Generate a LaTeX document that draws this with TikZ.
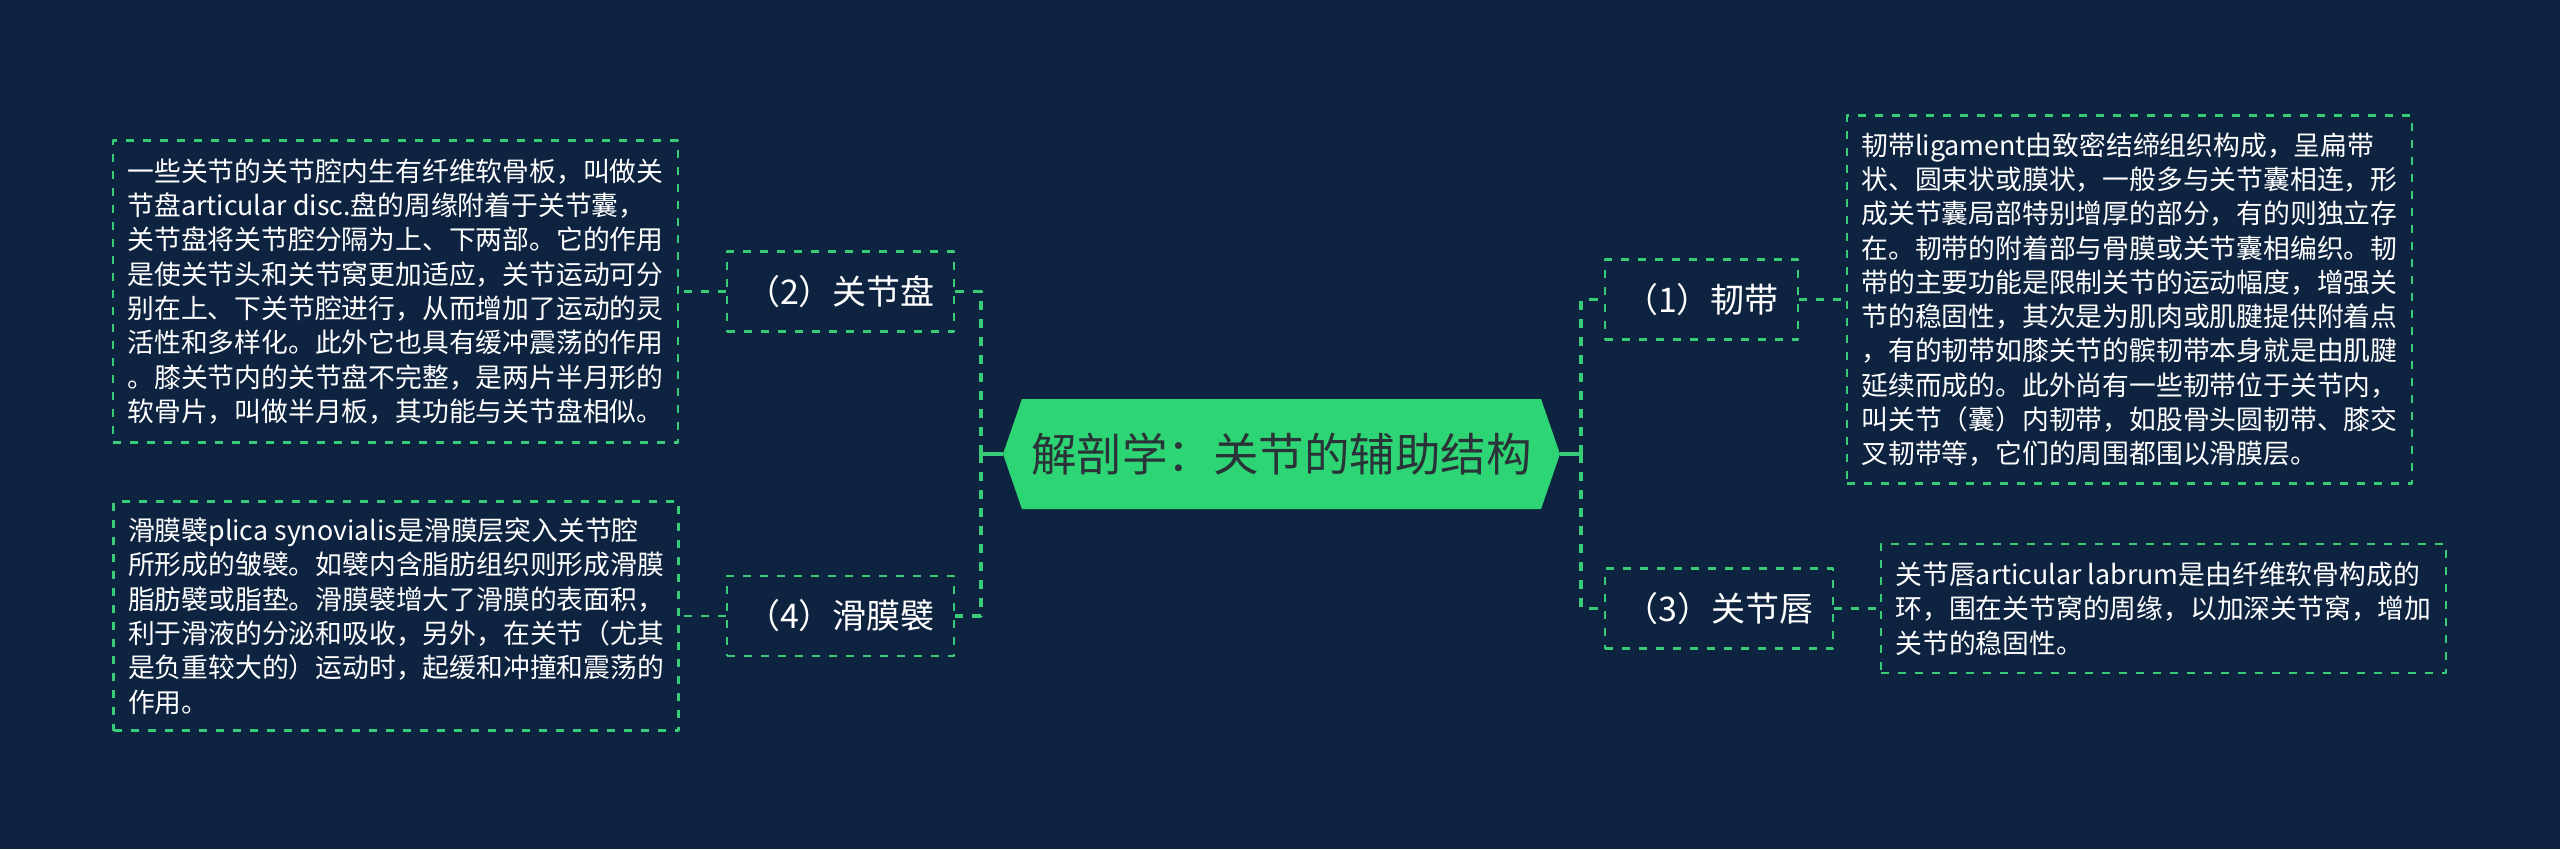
\documentclass[tikz,border=0pt]{standalone}
\usepackage{fontspec}
\setmainfont{Noto Sans CJK SC}
\usepackage{tikz}
\usetikzlibrary{shapes.symbols}
\definecolor{qqeett}{rgb}{0.055,0.137,0.251}
\definecolor{ttddww}{rgb}{0.18,0.835,0.455}
\definecolor{wwddtt}{rgb}{0.22,0.8,0.47}
\definecolor{eerrrr}{rgb}{0.16,0.2,0.22}
\begin{document}
\begin{tikzpicture}[line cap=butt,line join=round,x=1pt,y=-1pt,
	stem/.style={color=wwddtt,line width=3.5pt},
	link/.style={color=wwddtt,line width=3.5pt,dash pattern=on 9pt off 9pt},
	thinlink/.style={color=wwddtt,line width=2.5pt,dash pattern=on 8pt off 9pt},
	topic/.style={draw=wwddtt,line width=2.5pt,dash pattern=on 8pt off 9pt,text=white,inner sep=0pt,minimum height=80pt,font=\fontsize{34pt}{40pt}\selectfont},
	detail/.style={draw=wwddtt,line width=2.5pt,dash pattern=on 8pt off 9pt,text=white,inner sep=0pt,align=left,minimum width=565pt,font=\fontsize{26.8pt}{34.3pt}\selectfont}]
	\fill [color=qqeett] (0,0) rectangle (2560,849);
	\useasboundingbox (0,0) rectangle (2560,849);
	\node [signal,signal to=west and east,signal pointer angle=142,fill=ttddww,text=eerrrr,inner sep=0pt,minimum width=557pt,minimum height=110pt,font=\fontsize{45.5pt}{50pt}\selectfont] (root) at (1281.5,454) {解剖学：关节的辅助结构};
	\coordinate (lsplit) at (981,454);
	\coordinate (rsplit) at (1581,454);
	\node [topic,minimum width=227pt] (disc) at (840.5,291.5) {（2）关节盘};
	\node [topic,minimum width=227pt] (plica) at (840.5,616) {（4）滑膜襞};
	\node [topic,minimum width=193pt] (ligament) at (1701.5,299.5) {（1）韧带};
	\node [topic,minimum width=228pt] (labrum) at (1719,608.5) {（3）关节唇};
	\node [detail,minimum height=302pt] (discnote) at (395.5,291.5) {一些关节的关节腔内生有纤维软骨板，叫做关\\节盘articular disc.盘的周缘附着于关节囊，\\关节盘将关节腔分隔为上、下两部。它的作用\\是使关节头和关节窝更加适应，关节运动可分\\别在上、下关节腔进行，从而增加了运动的灵\\活性和多样化。此外它也具有缓冲震荡的作用\\。膝关节内的关节盘不完整，是两片半月形的\\软骨片，叫做半月板，其功能与关节盘相似。};
	\node [detail,minimum height=229pt] (plicanote) at (396,616) {滑膜襞plica synovialis是滑膜层突入关节腔\\所形成的皱襞。如襞内含脂肪组织则形成滑膜\\脂肪襞或脂垫。滑膜襞增大了滑膜的表面积，\\利于滑液的分泌和吸收，另外，在关节（尤其\\是负重较大的）运动时，起缓和冲撞和震荡的\\作用。};
	\node [detail,minimum height=368pt] (ligamentnote) at (2129.5,299.5) {韧带ligament由致密结缔组织构成，呈扁带\\状、圆束状或膜状，一般多与关节囊相连，形\\成关节囊局部特别增厚的部分，有的则独立存\\在。韧带的附着部与骨膜或关节囊相编织。韧\\带的主要功能是限制关节的运动幅度，增强关\\节的稳固性，其次是为肌肉或肌腱提供附着点\\，有的韧带如膝关节的髌韧带本身就是由肌腱\\延续而成的。此外尚有一些韧带位于关节内，\\叫关节（囊）内韧带，如股骨头圆韧带、膝交\\叉韧带等，它们的周围都围以滑膜层。};
	\node [detail,minimum height=129pt] (labrumnote) at (2163.5,608.5) {关节唇articular labrum是由纤维软骨构成的\\环，围在关节窝的周缘，以加深关节窝，增加\\关节的稳固性。};
	\draw [stem] (root.west) -- (lsplit);
	\draw [stem] (root.east) -- (rsplit);
	\draw [link] (lsplit) |- (disc.east);
	\draw [link] (lsplit) |- (plica.east);
	\draw [link] (rsplit) |- (ligament.west);
	\draw [link] (rsplit) |- (labrum.west);
	\draw [thinlink] (disc.west) -- (discnote.east);
	\draw [thinlink] (plica.west) -- (plicanote.east);
	\draw [thinlink] (ligament.east) -- (ligamentnote.west);
	\draw [thinlink] (labrum.east) -- (labrumnote.west);
\end{tikzpicture}
\end{document}
